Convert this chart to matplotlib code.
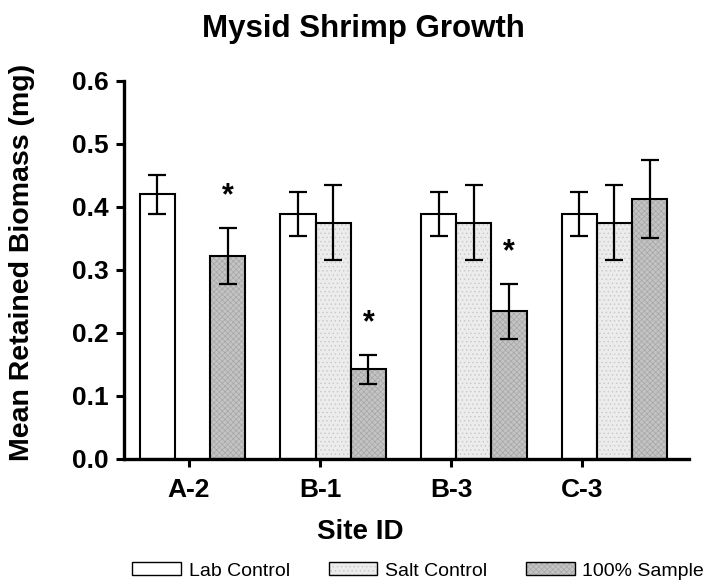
import numpy as np
import matplotlib
matplotlib.use("Agg")
import matplotlib.pyplot as plt
from matplotlib.patches import Patch
from matplotlib.legend_handler import HandlerTuple

plt.rcParams['font.family'] = ['Liberation Sans', 'DejaVu Sans']
plt.rcParams['hatch.linewidth'] = 0.5

sites = ['A-2', 'B-1', 'B-3', 'C-3']
series = ['Lab Control', 'Salt Control', '100% Sample']
lab_mean = [0.420, 0.388, 0.388, 0.388]
lab_err = [0.031, 0.035, 0.035, 0.035]
salt_mean = [np.nan, 0.375, 0.375, 0.375]
salt_err = [np.nan, 0.060, 0.060, 0.060]
sample_mean = [0.322, 0.142, 0.234, 0.413]
sample_err = [0.045, 0.023, 0.044, 0.062]
significant = [True, True, True, False]

# face colour, hatch, hatch colour
styles = [('white', '', 'white'),
          ('#ececec', '....', '#c8c8c8'),
          ('#c4c4c4', 'xxxxxx', '#a6a6a6')]

fig = plt.figure(figsize=(7.06, 5.87), dpi=100)
ax = fig.add_axes([0.1756, 0.2181, 0.8003, 0.6444])

x = np.arange(len(sites))
width = 0.25
means = [lab_mean, salt_mean, sample_mean]
errs = [lab_err, salt_err, sample_err]
for i, (m, e) in enumerate(zip(means, errs)):
    fc, hatch, hc = styles[i]
    pos = x + (i - 1) * width
    ax.bar(pos, m, width, color=fc, hatch=hatch, edgecolor=hc, linewidth=0, zorder=1)
    ax.bar(pos, m, width, fill=False, edgecolor='black', linewidth=1.5, zorder=2)
    ax.errorbar(pos, m, yerr=e, fmt='none', ecolor='black', elinewidth=1.6,
                capsize=6.5, capthick=1.6, zorder=3)

# significance stars above the 100% sample bars
for xi, m, e, s in zip(x, sample_mean, sample_err, significant):
    if s:
        ax.text(xi + width, m + e + 0.05, '*', ha='center', va='center',
                fontsize=22, fontweight='bold')

ax.set_xlim(-0.488, 3.53)
ax.set_ylim(0, 0.6)
ax.set_yticks(np.arange(0, 0.61, 0.1))
ax.set_yticklabels([f'{v:.1f}' for v in np.arange(0, 0.61, 0.1)])
# category ticks sit slightly left of the bar groups, as in the original
ax.set_xticks(np.arange(len(sites)) * 0.932 - 0.026)
ax.set_xticklabels(sites)
for lab in ax.get_xticklabels() + ax.get_yticklabels():
    lab.set_fontweight('bold')
ax.tick_params(axis='both', labelsize=19, width=2.2, length=6, direction='out')
ax.tick_params(axis='x', pad=7.5)
ax.tick_params(axis='y', pad=5)

for side in ['top', 'right']:
    ax.spines[side].set_visible(False)
for side in ['left', 'bottom']:
    ax.spines[side].set_linewidth(2.4)

ax.set_ylabel('Mean Retained Biomass (mg)', fontsize=20.5, fontweight='bold')
ax.yaxis.set_label_coords(-0.157, 0.52)
ax.set_xlabel('Site ID', fontsize=20, fontweight='bold')
ax.xaxis.set_label_coords(0.418, -0.158)

fig.text(363 / 706, 1 - 29 / 587, 'Mysid Shrimp Growth', ha='center', va='center',
         fontsize=22.5, fontweight='bold')

handles = []
for fc, hatch, hc in styles:
    handles.append((Patch(facecolor=fc, hatch=hatch, edgecolor=hc, linewidth=0),
                    Patch(fill=False, edgecolor='black', linewidth=1.0)))
fig.legend(handles, series, handler_map={tuple: HandlerTuple(ndivide=1, pad=0)},
           loc='center right', bbox_to_anchor=(706 / 706, 1 - 571 / 587), ncol=3,
           frameon=False, fontsize=14, handlelength=2.5, handleheight=0.6,
           columnspacing=2.0, handletextpad=0.4, borderaxespad=0, borderpad=0.1)

fig.savefig('out.png', dpi=100)
